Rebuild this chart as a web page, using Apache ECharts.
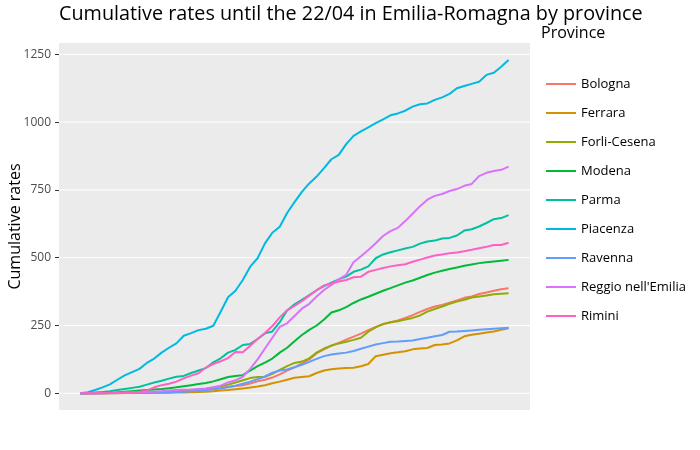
<!DOCTYPE html>
<html>
<head>
<meta charset="utf-8">
<script src="https://cdn.jsdelivr.net/npm/echarts@6/dist/echarts.min.js"></script>
<style>
html,body{margin:0;padding:0;background:#fff;}
#chart{width:700px;height:450px;}
</style>
</head>
<body>
<div id="chart"></div>
<script>
const provinces = ["Bologna","Ferrara","Forli-Cesena","Modena","Parma","Piacenza","Ravenna","Reggio nell'Emilia","Rimini"];
const colors = ["#F8766D","#D39200","#93AA00","#00BA38","#00C19F","#00B9E3","#619CFF","#DB72FB","#FF61C3"];
const yTicks = [0,250,500,750,1000,1250];

const bologna = [0,0,0,0,1,1,1,2,2,3, 4,5,6,7,8,10,12,14,17,20, 24,27,30,36,44,50,58,70,84,96, 110,125,148,162,176,186,198,209,220,233, 245,254,262,269,278,288,300,311,320,326, 334,342,352,357,366,372,378,384,387];
const ferrara = [0,0,0,0,0,0,1,1,1,1, 2,2,2,3,3,4,5,6,8,10, 12,15,18,21,25,30,37,43,50,57, 60,63,75,84,89,91,93,94,100,108, 137,142,148,151,155,162,165,167,178,180, 184,195,210,216,220,224,228,234,240];
const forli = [0,0,0,0,1,1,1,2,2,3, 3,4,5,7,9,11,14,17,21,26, 32,40,48,56,60,61,72,86,100,112, 117,129,150,165,176,184,190,197,205,227, 243,256,262,266,272,278,287,301,311,320, 330,338,345,353,357,361,365,367,369];
const modena = [0,0,1,2,3,4,6,8,10,12, 14,16,19,22,26,30,34,38,44,52, 60,64,67,84,100,113,128,150,168,192, 215,234,250,272,298,306,318,333,346,356, 367,378,388,398,408,416,426,436,445,452, 458,464,470,475,480,483,486,489,492];
const parma = [0,1,3,5,8,12,16,20,24,32, 40,46,54,61,64,75,84,93,114,129, 150,160,178,182,200,221,228,262,305,328, 345,362,380,395,408,420,430,448,456,468, 498,512,520,527,534,540,552,560,563,571, 573,582,600,605,615,628,642,646,657];
const piacenza = [0,4,12,22,33,50,66,78,90,112, 128,150,168,184,212,222,233,238,249,301, 354,378,418,467,498,553,592,614,665,705, 743,774,799,830,863,879,919,949,966,981, 996,1010,1025,1032,1042,1057,1066,1069,1082,1091, 1104,1125,1133,1141,1149,1174,1182,1204,1229];
const ravenna = [0,0,0,0,0,1,1,1,1,2, 2,3,4,5,6,8,10,12,15,18, 22,28,35,43,52,62,76,84,88,96, 105,116,127,137,143,147,150,156,164,172, 180,185,190,191,193,195,200,205,210,215, 227,228,230,232,234,236,238,240,242];
const reggio = [0,0,0,1,1,2,2,3,4,5, 6,8,10,12,13,14,16,18,22,28, 40,48,61,90,125,165,205,245,258,285, 312,330,357,381,400,420,437,483,505,528, 553,580,598,610,635,662,690,714,728,735, 746,753,765,772,801,813,820,824,836];
const rimini = [0,0,0,1,1,2,3,4,6,10, 22,30,35,43,55,65,74,95,108,118, 130,152,151,175,200,222,248,280,306,322, 340,360,380,398,405,412,418,428,430,448, 455,462,468,472,476,485,493,501,508,512, 516,519,524,529,535,540,547,547,555];

const allSeries = [bologna,ferrara,forli,modena,parma,piacenza,ravenna,reggio,rimini];
const nDays = bologna.length;

// panel geometry (ggplot-like 5% expansion on x)
const panelLeft = 59, panelRight = 170, panelTop = 43, panelBottom = 40;
const panelW = 700 - panelLeft - panelRight;
const xExpand = panelW * 0.05 / 1.1;

const font = "'Open Sans', 'DejaVu Sans', sans-serif";
const chart = echarts.init(document.getElementById('chart'), null, {renderer:'canvas'});

const series = allSeries.map((vals, k) => ({
  name: provinces[k],
  type: 'line',
  xAxisIndex: 1,
  yAxisIndex: 1,
  data: vals.map((v, i) => [i, v]),
  showSymbol: false,
  symbol: 'none',
  clip: false,
  lineStyle: {width: 2, color: colors[k]},
  itemStyle: {color: colors[k]},
  emphasis: {disabled: true},
  animation: false
}));

chart.setOption({
  animation: false,
  backgroundColor: '#ffffff',
  textStyle: {fontFamily: font},
  title: [
    {text: 'Cumulative rates until the 22/04 in Emilia-Romagna by province', left: 59, top: 4, padding: 0,
     textStyle: {fontFamily: font, fontSize: 19.8, fontWeight: 'normal', color: '#000'}},
    {text: 'Province', left: 541, top: 25, padding: 0,
     textStyle: {fontFamily: font, fontSize: 16, fontWeight: 'normal', color: '#000'}}
  ],
  grid: [
    {left: panelLeft, right: panelRight, top: panelTop, bottom: panelBottom, show: true, backgroundColor: '#EBEBEB', borderWidth: 0,
     containLabel: false, outerBoundsMode: 'none'},
    {left: panelLeft + xExpand, right: panelRight + xExpand, top: 54.3, bottom: 56.7, show: false,
     containLabel: false, outerBoundsMode: 'none'}
  ],
  xAxis: [
    {gridIndex: 0, type: 'value', min: 0, max: 1, show: false},
    {gridIndex: 1, type: 'value', min: 0, max: nDays - 1,
     axisLine: {show: false, onZero: false}, axisTick: {show: false}, axisLabel: {show: false}, splitLine: {show: false}}
  ],
  yAxis: [
    {gridIndex: 0, type: 'value', min: 0, max: 1, show: false},
    {gridIndex: 1, type: 'value', min: yTicks[0], max: yTicks[yTicks.length - 1], interval: 250,
     offset: xExpand,
     axisLine: {show: false, onZero: false},
     axisTick: {show: true, length: 4, lineStyle: {color: '#333', width: 1}},
     axisLabel: {fontFamily: font, fontSize: 12, color: '#4D4D4D', margin: 8,
                 formatter: v => String(v)},
     splitLine: {show: false}}
  ],
  legend: {
    orient: 'vertical',
    left: 546,
    top: 76,
    padding: 0,
    itemWidth: 30,
    itemHeight: 2,
    itemGap: 13,
    icon: 'rect',
    data: provinces,
    textStyle: {fontFamily: font, fontSize: 13, color: '#000', lineHeight: 16},
    selectedMode: false
  },
  series: series
});

// white horizontal gridlines across the full panel, placed through the y scale
const gridLines = yTicks.map(t => {
  const y = chart.convertToPixel({yAxisIndex: 1}, t);
  return {type: 'line', silent: true, z: 1,
    shape: {x1: panelLeft, y1: y, x2: 700 - panelRight, y2: y},
    style: {stroke: '#ffffff', lineWidth: 1}};
});
const yTitle = {
  type: 'text', silent: true, z: 5,
  x: 15, y: panelTop + (450 - panelTop - panelBottom) / 2,
  rotation: Math.PI / 2,
  style: {text: 'Cumulative rates', fontFamily: font, fontSize: 16, fill: '#000',
          align: 'center', verticalAlign: 'middle'}
};
chart.setOption({graphic: gridLines.concat([yTitle])});
</script>
</body>
</html>
